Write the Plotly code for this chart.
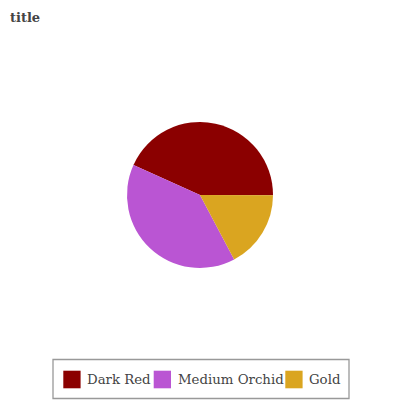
import plotly.graph_objects as go

labels = ["Dark Red", "Medium Orchid", "Gold"]
values = [43.3, 39.5, 17.2]
colors = ["#8B0000", "#BA55D3", "#DAA520"]

# Page is offset by the default 8px body margin; figure is 392x392.
W = H = 392
OFF = 8


def px(x):
    return (x - OFF) / W


def py(y):
    return 1 - (y - OFF) / H


cx, cy, r = 200, 195, 73

fig = go.Figure(go.Pie(
    labels=labels, values=values, sort=False,
    direction="counterclockwise", rotation=-65.7,
    marker=dict(colors=colors, line=dict(width=0)),
    textinfo="none", hoverinfo="label+value",
    domain=dict(x=[px(cx - r), px(cx + r)], y=[py(cy + r), py(cy - r)]),
    showlegend=False,
))

shapes = [dict(type="rect", xref="paper", yref="paper",
               x0=px(53), x1=px(349), y0=py(398.5), y1=py(359.5),
               line=dict(color="#999", width=1.3), fillcolor="white", layer="below")]
annotations = []
swatch_x = [63.3, 153.7, 285.3]
text_x = [85.0, 176.0, 306.8]
for lab, col, sx, tx in zip(labels, colors, swatch_x, text_x):
    shapes.append(dict(type="rect", xref="paper", yref="paper",
                       x0=px(sx), x1=px(sx + 17.3), y0=py(388.3), y1=py(370.7),
                       line=dict(width=0), fillcolor=col))
    annotations.append(dict(text=lab, xref="paper", yref="paper", x=px(tx), y=py(379.5),
                            xanchor="left", yanchor="middle", showarrow=False,
                            font=dict(family="DejaVu Serif", size=13.3, color="#444")))

fig.update_layout(
    width=W, height=H,
    margin=dict(l=0, r=0, t=0, b=0),
    paper_bgcolor="white", plot_bgcolor="white",
    font=dict(family="DejaVu Serif", color="#444", size=13),
    title=dict(text="<b>title</b>", x=px(10), xanchor="left", y=py(17), yanchor="middle",
               font=dict(family="DejaVu Serif", size=13, color="#444")),
    shapes=shapes, annotations=annotations,
)
fig.write_html("out.html")
